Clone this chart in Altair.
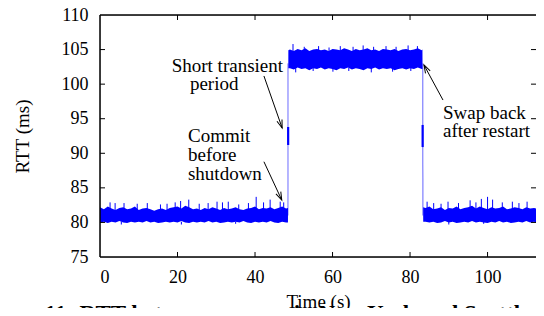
import math
import altair as alt
import pandas as pd

# ---------------- data ----------------
# dense RTT band, one reading per second: upper and lower envelope (ms)
# segment A: t = 0 .. 48 s (before shutdown)
upper_A = [82.2, 81.9, 82.3, 82.0, 81.8, 82.1, 82.2, 81.9, 82.0, 82.3,
           81.8, 82.0, 82.1, 81.9, 81.7, 81.9, 82.0, 81.8, 82.1, 82.2,
           82.3, 82.0, 82.4, 82.2, 81.9, 82.0, 81.8, 82.1, 81.9, 82.2,
           82.0, 81.8, 82.1, 81.9, 82.0, 82.2, 81.9, 81.8, 82.0, 82.1,
           82.3, 81.9, 82.1, 82.0, 82.2, 81.9, 82.1, 82.3, 82.0]
lower_A = [80.0, 80.1, 79.9, 80.1, 80.0, 80.2, 80.0, 79.9, 80.1, 80.0,
           80.1, 80.0, 80.2, 80.0, 80.1, 79.9, 80.0, 80.1, 80.0, 80.1,
           80.0, 80.2, 80.0, 79.9, 80.1, 80.0, 80.1, 80.0, 80.2, 80.0,
           80.1, 79.9, 80.0, 80.1, 80.0, 80.1, 80.0, 80.2, 80.0, 79.9,
           80.1, 80.0, 80.1, 80.0, 80.2, 80.0, 79.9, 80.1, 80.0]
# segment B: t = 49 .. 83 s (swapped path)
upper_B = [105.0, 104.8, 105.1, 104.9, 105.2, 104.8, 105.0, 105.1, 104.9, 105.0,
           104.8, 105.1, 105.0, 104.9, 105.2, 105.0, 104.8, 105.1, 104.9, 105.0,
           105.2, 104.9, 105.0, 104.8, 105.1, 105.0, 104.9, 105.1, 104.8, 105.0,
           105.1, 104.9, 105.0, 105.2, 104.9]
lower_B = [102.3, 102.1, 102.4, 102.2, 102.3, 102.0, 102.3, 102.2, 102.4, 102.1,
           102.3, 102.2, 102.0, 102.3, 102.2, 102.4, 102.1, 102.3, 102.2, 102.0,
           102.3, 102.2, 102.4, 102.1, 102.3, 102.2, 102.3, 102.0, 102.2, 102.3,
           102.1, 102.3, 102.2, 102.4, 102.2]
# segment C: t = 84 .. 115 s (after restart)
upper_C = [82.1, 82.3, 81.9, 82.0, 82.2, 81.8, 82.1, 82.0, 82.3, 81.9,
           82.1, 82.2, 82.4, 82.0, 82.3, 82.1, 81.9, 82.2, 82.0, 82.1,
           82.3, 81.9, 82.0, 82.2, 82.1, 81.9, 82.2, 82.0, 82.1, 81.9,
           82.2, 82.0]
lower_C = [80.1, 80.0, 80.1, 79.9, 80.0, 80.2, 80.0, 80.1, 79.9, 80.0,
           80.1, 80.0, 80.2, 80.0, 80.1, 80.0, 79.9, 80.1, 80.0, 80.2,
           80.0, 80.1, 79.9, 80.0, 80.1, 80.0, 80.2, 80.0, 80.1, 79.9,
           80.0, 80.1]
# band edges at the two switch-overs
edge_t = [48.5, 48.6, 83.2, 83.4]
edge_hi = [82.1, 104.9, 105.0, 82.2]
edge_lo = [80.0, 102.3, 102.2, 80.1]

# single-sample spikes and dips sticking out of the band
whisk_t = [2.6, 3.9, 6.2, 9.6, 12.2, 15.6, 17.3, 19.4, 20.8, 22.9, 25.6, 27.9,
           30.2, 31.6, 33.1, 35.8, 38.3, 40.3, 42.2, 43.9, 46.5, 47.4,
           49.8, 52.7, 56.4, 59.1, 62.0, 65.3, 67.9, 70.6, 73.8, 76.4, 79.5, 81.9,
           84.4, 86.1, 88.0, 89.8, 92.5, 95.5, 97.0, 98.4, 100.0, 101.3, 103.8,
           106.4, 108.1, 110.2, 112.7, 114.0,
           50.5, 55.0, 60.1, 64.2, 70.0, 75.5, 80.2,
           5.5, 21.0, 35.0, 90.0, 99.0]
whisk_from = [81.8] * 22 + [104.8] * 12 + [81.8] * 16 + [102.4] * 7 + [80.1] * 5
whisk_to = [82.9, 82.8, 82.8, 82.7, 82.8, 82.6, 82.7, 82.9, 83.1, 83.3, 82.7, 82.8,
            83.0, 82.9, 83.0, 82.6, 82.8, 83.7, 82.9, 83.3, 83.0, 82.9,
            105.8, 105.4, 105.5, 105.3, 105.5, 105.4, 105.6, 105.4, 105.5, 105.4, 105.6, 105.5,
            83.0, 82.8, 82.7, 83.0, 82.8, 83.2, 82.9, 83.4, 83.7, 83.3, 82.9,
            83.0, 82.8, 83.0, 82.9, 82.8,
            101.7, 101.9, 101.8, 101.9, 101.7, 101.8, 101.9,
            79.7, 79.7, 79.8, 79.7, 79.8]

# vertical jumps and the short transient period
jump_t = [48.5, 83.3]
jump_lo = [81.0, 81.0]
jump_hi = [103.0, 103.0]
trans_t = [48.55, 83.25]
trans_lo = [91.2, 90.9]
trans_hi = [93.8, 94.1]

# annotations
ann_text = ["Short transient", "period", "Commit", "before", "shutdown",
            "Swap back", "after restart"]
ann_t = [18.5, 23.2, 22.7, 22.7, 22.7, 88.5, 88.5]
ann_v = [101.8, 99.2, 91.67, 88.95, 86.1, 94.9, 92.3]
arr_t0 = [42.3, 42.3, 88.5]
arr_v0 = [101.18, 88.78, 97.7]
arr_t1 = [47.0, 46.9, 83.6]
arr_v1 = [93.66, 83.24, 102.77]

x_ticks = [0, 20, 40, 60, 80, 100]
y_ticks = [75, 80, 85, 90, 95, 100, 105, 110]
caption = "Figure 11: RTT between servers in New York and Seattle"

# ---------------- chart ----------------
W, H = 436, 242
X_DOM, Y_DOM = [0, 112.5], [75, 110]
FONT = "Liberation Serif"
BLUE = "#0000ff"
X_TITLE, Y_TITLE = "Time (s)", "RTT (ms)"

xs = alt.Scale(domain=X_DOM, nice=False, zero=False)
ys = alt.Scale(domain=Y_DOM, nice=False, zero=False)

x_axis = alt.Axis(values=x_ticks, ticks=False, domain=False, grid=False,
                  labelFont=FONT, labelFontSize=18, labelColor="black",
                  labelPadding=25, labelBaseline="alphabetic",
                  titleFont=FONT, titleFontSize=19, titleFontWeight="normal",
                  titleColor="black", titleY=50, titleBaseline="alphabetic")
y_axis = alt.Axis(values=y_ticks, ticks=False, domain=False, grid=False,
                  labelFont=FONT, labelFontSize=18, labelColor="black",
                  labelPadding=12,
                  titleFont=FONT, titleFontSize=19, titleFontWeight="normal",
                  titleColor="black", titleX=-72, titleY=H / 2,
                  titleAngle=270, titleBaseline="alphabetic", titleAlign="center")


def X(field):
    return alt.X(field, type="quantitative", scale=xs, axis=x_axis, title=X_TITLE)


def Y(field):
    return alt.Y(field, type="quantitative", scale=ys, axis=y_axis, title=Y_TITLE)


rows = []
for i, (h, l) in enumerate(zip(upper_A, lower_A)):
    rows.append((0 + i, l, h))
for i, (h, l) in enumerate(zip(upper_B, lower_B)):
    rows.append((49 + i, l, h))
for i, (h, l) in enumerate(zip(upper_C, lower_C)):
    rows.append((84 + i, l, h))
for t, l, h in zip(edge_t, edge_lo, edge_hi):
    rows.append((t, l, h))
band_df = pd.DataFrame(rows, columns=["t", "lo", "hi"]).sort_values("t")

whisk_df = pd.DataFrame({"t": whisk_t, "a": whisk_from, "b": whisk_to})
jump_df = pd.DataFrame({"t": jump_t, "a": jump_lo, "b": jump_hi})
trans_df = pd.DataFrame({"t": trans_t, "a": trans_lo, "b": trans_hi})
ann_df = pd.DataFrame({"t": ann_t, "v": ann_v, "txt": ann_text})

px_x = W / (X_DOM[1] - X_DOM[0])
px_y = H / (Y_DOM[1] - Y_DOM[0])
angles = []
for t0, v0, t1, v1 in zip(arr_t0, arr_v0, arr_t1, arr_v1):
    dx = (t1 - t0) * px_x
    dy = -(v1 - v0) * px_y
    angles.append(math.degrees(math.atan2(dx, -dy)) % 360)
arr_df = pd.DataFrame({"t0": arr_t0, "v0": arr_v0, "t1": arr_t1, "v1": arr_v1,
                       "ang": angles})

band = alt.Chart(band_df).mark_area(color=BLUE, opacity=1, clip=True).encode(
    x=X("t"), y=Y("lo"), y2="hi")

whisk = alt.Chart(whisk_df).mark_rule(color=BLUE, strokeWidth=1, clip=True).encode(
    x=X("t"), y=Y("a"), y2="b")
jumps = alt.Chart(jump_df).mark_rule(color=BLUE, strokeWidth=1, opacity=0.55).encode(
    x=X("t"), y=Y("a"), y2="b")
trans = alt.Chart(trans_df).mark_rule(color=BLUE, strokeWidth=2.2).encode(
    x=X("t"), y=Y("a"), y2="b")

arrow_lines = alt.Chart(arr_df).mark_rule(color="black", strokeWidth=1).encode(
    x=X("t0"), y=Y("v0"), x2="t1", y2="v1")
arrow_heads = alt.Chart(arr_df).mark_point(
    shape="M-0.33,1 L0,0 L0.33,1", size=260, filled=False,
    stroke="black", strokeWidth=1, opacity=1,
).encode(x=X("t1"), y=Y("v1"), angle=alt.Angle("ang:Q", scale=None))

labels = alt.Chart(ann_df).mark_text(
    align="left", baseline="alphabetic", font=FONT, fontSize=19, color="black",
).encode(x=X("t"), y=Y("v"), text="txt:N")

tick_y_df = pd.DataFrame({"v": y_ticks[1:-1]})
tick_x_df = pd.DataFrame({"t": x_ticks[1:]})
TL = 5
ty_left = alt.Chart(tick_y_df).mark_rule(color="black", strokeWidth=1).encode(
    y=Y("v"), x=alt.value(0), x2=alt.value(TL))
ty_right = alt.Chart(tick_y_df).mark_rule(color="black", strokeWidth=1).encode(
    y=Y("v"), x=alt.value(W - TL), x2=alt.value(W))
tx_bottom = alt.Chart(tick_x_df).mark_rule(color="black", strokeWidth=1).encode(
    x=X("t"), y=alt.value(H - TL), y2=alt.value(H))
tx_top = alt.Chart(tick_x_df).mark_rule(color="black", strokeWidth=1).encode(
    x=X("t"), y=alt.value(0), y2=alt.value(TL))

# plot border: left, top, bottom (right edge lies beyond the crop)
one = pd.DataFrame({"k": [0]})
b_left = alt.Chart(one).mark_rule(color="black", strokeWidth=1.5).encode(
    x=alt.value(0), y=alt.value(0), y2=alt.value(H))
b_top = alt.Chart(one).mark_rule(color="black", strokeWidth=1.5).encode(
    x=alt.value(0), x2=alt.value(W), y=alt.value(0))
b_bot = alt.Chart(one).mark_rule(color="black", strokeWidth=1.5).encode(
    x=alt.value(0), x2=alt.value(W), y=alt.value(H))

cap = alt.Chart(pd.DataFrame({"c": [caption]})).mark_text(
    align="left", baseline="alphabetic", font=FONT, fontSize=23,
    fontWeight="bold", color="black",
).encode(text="c:N", x=alt.value(-126), y=alt.value(306))

chart = alt.layer(
    band, jumps, whisk, trans, ty_left, ty_right, tx_bottom, tx_top,
    b_left, b_top, b_bot, arrow_lines, arrow_heads, labels, cap,
).properties(
    width=W, height=H,
    autosize=alt.AutoSizeParams(type="none"),
    padding={"left": 92, "top": 7, "right": 0, "bottom": 51},
).configure_view(
    strokeWidth=0,
).configure(background="white")

chart.save("out.html", embed_options={"renderer": "svg", "actions": False})
